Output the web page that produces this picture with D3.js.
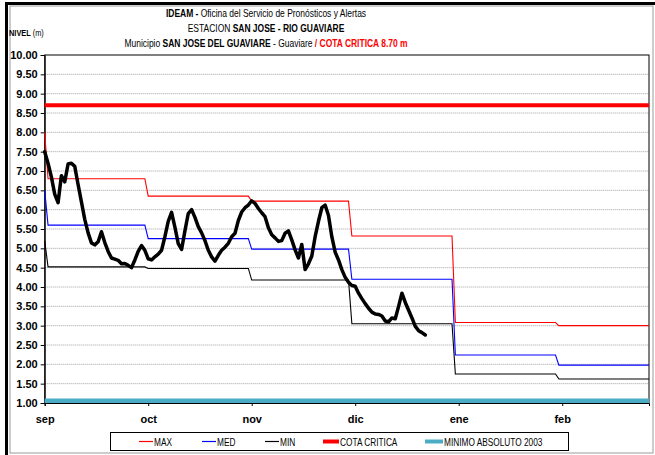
<!DOCTYPE html>
<html>
<head>
<meta charset="utf-8">
<script src="https://cdn.jsdelivr.net/npm/d3@7"></script>
<style>
  html, body { margin: 0; padding: 0; background: #fff; }
  svg { display: block; }
  .narrow { font-family: "Liberation Sans Narrow", "Arial Narrow", "Liberation Sans", Arial, sans-serif; }
  .axis-lbl { font-family: "Liberation Sans", Arial, sans-serif; font-weight: bold; font-size: 11px; fill: #000; }
</style>
</head>
<body>
<svg id="chart" width="655" height="455"></svg>
<script>
// Month labels along the bottom axis; a tick every 31 daily slots
const monthLabels = ["sep", "oct", "nov", "dic", "ene", "feb"];
const monthDays = [30, 31, 30, 31, 31, 28];
const yTicks = [1.0, 1.5, 2.0, 2.5, 3.0, 3.5, 4.0, 4.5, 5.0, 5.5, 6.0, 6.5, 7.0, 7.5, 8.0, 8.5, 9.0, 9.5, 10.0];

// Historical monthly levels (m): first value is the carry-in from the previous month
const maxStart = 8.0;
const maxMonthly = [6.80, 6.35, 6.22, 5.32, 3.08, 3.00];
const medStart = 6.5;
const medMonthly = [5.60, 5.25, 4.98, 4.20, 2.24, 1.98];
const minStart = 5.2;
const minMonthly = [4.52, 4.48, 4.18, 3.05, 1.75, 1.62];

// Reference levels (m)
const cotaCritica = 8.70;
const minimoAbsoluto2003 = 1.06;

// Observed daily water level (m) for the current season
const observed = [
  7.50, 7.20, 6.85, 6.40, 6.18, 6.88, 6.72, 7.18, 7.20, 7.12,
  6.65, 6.20, 5.75, 5.40, 5.14, 5.09, 5.17, 5.43, 5.15, 4.92,
  4.75, 4.72, 4.69, 4.60, 4.61, 4.56, 4.50, 4.70, 4.92, 5.07,
  4.95, 4.73, 4.70, 4.78, 4.85, 4.95, 5.30, 5.70, 5.93, 5.55,
  5.12, 4.97, 5.45, 5.90, 6.00, 5.80, 5.56, 5.40, 5.20, 4.95,
  4.78, 4.67, 4.82, 4.95, 5.03, 5.13, 5.30, 5.39, 5.72, 5.94,
  6.05, 6.12, 6.23, 6.16, 6.03, 5.92, 5.82, 5.53, 5.35, 5.27,
  5.18, 5.20, 5.39, 5.45, 5.22, 4.96, 4.75, 5.10, 4.45, 4.60,
  4.80, 5.30, 5.70, 6.05, 6.12, 5.85, 5.30, 4.90, 4.70, 4.45,
  4.25, 4.12, 4.04, 4.02, 3.84, 3.70, 3.57, 3.45, 3.35, 3.30,
  3.29, 3.25, 3.12, 3.10, 3.20, 3.18, 3.50, 3.84, 3.60, 3.40,
  3.20, 2.98, 2.87, 2.82, 2.76
];

const legendItems = [
  { key: "MAX", color: "#ff0000", width: 1.2 },
  { key: "MED", color: "#0000ff", width: 1.2 },
  { key: "MIN", color: "#000000", width: 1.2 },
  { key: "COTA CRITICA", color: "#ff0000", width: 4 },
  { key: "MINIMO ABSOLUTO 2003", color: "#4bacc6", width: 4 }
];

// Expand a monthly step series into one value per daily slot
function expandMonthly(start, monthly) {
  const out = [{ i: 0, v: start }];
  let i = 1;
  monthly.forEach((v, m) => {
    for (let k = 0; k < monthDays[m]; k++) out.push({ i: i++, v });
  });
  return out;
}
const totalSlots = d3.sum(monthDays); // last slot index

const svg = d3.select("#chart");
const plot = { left: 44.7, right: 649, top: 55, bottom: 403 };

const x = d3.scaleLinear().domain([0, totalSlots]).range([plot.left, plot.right]);
const y = d3.scaleLinear().domain([1, 10]).range([plot.bottom, plot.top]);

// Outer chart frame
svg.append("rect").attr("x", 10).attr("y", 6).attr("width", 643).attr("height", 447)
  .attr("fill", "none").attr("stroke", "#9a9a9a").attr("stroke-width", 1);
svg.append("line").attr("x1", 6.5).attr("x2", 6.5).attr("y1", 2).attr("y2", 455)
  .attr("stroke", "#000").attr("stroke-width", 3);
svg.append("line").attr("x1", 5).attr("x2", 655).attr("y1", 3.5).attr("y2", 3.5)
  .attr("stroke", "#000").attr("stroke-width", 3);

// Condensed text helper: horizontal squeeze around an anchor point
function squeezed(parent, cx, cy, sx, anchor) {
  return parent.append("g").attr("transform", `translate(${cx},${cy}) scale(${sx},1)`)
    .append("text").attr("x", 0).attr("y", 0).attr("text-anchor", anchor);
}

// Titles
const titleG = svg.append("g").attr("class", "narrow").attr("font-size", 11);
const t1 = squeezed(titleG, 266, 17, 0.77, "middle");
t1.append("tspan").attr("font-weight", "bold").text("IDEAM - ");
t1.append("tspan").text("Oficina del Servicio de Pronósticos y Alertas");
const t2 = squeezed(titleG, 266, 32, 0.77, "middle");
t2.append("tspan").text("ESTACION ");
t2.append("tspan").attr("font-weight", "bold").text("SAN JOSE - RIO GUAVIARE");
const t3 = squeezed(titleG, 266, 47, 0.77, "middle");
t3.append("tspan").text("Municipio ");
t3.append("tspan").attr("font-weight", "bold").text("SAN JOSE DEL GUAVIARE");
t3.append("tspan").text(" - Guaviare ");
t3.append("tspan").attr("font-weight", "bold").attr("fill", "#ff0000").text(" / COTA CRITICA 8.70 m");

const yTitle = squeezed(svg.append("g").attr("class", "narrow").attr("font-size", 9.5), 9, 36, 0.78, "start");
yTitle.append("tspan").attr("font-weight", "bold").text("NIVEL ");
yTitle.append("tspan").text("(m)");

// Gridlines
svg.append("g").selectAll("line").data(yTicks.filter(t => t > 1 && t < 10)).join("line")
  .attr("x1", plot.left).attr("x2", plot.right)
  .attr("y1", d => y(d)).attr("y2", d => y(d))
  .attr("stroke", "#a0a0a0").attr("stroke-width", 1).attr("stroke-dasharray", "1,1");

// Plot frame
svg.append("rect").attr("x", plot.left).attr("y", plot.top)
  .attr("width", plot.right - plot.left).attr("height", plot.bottom - plot.top)
  .attr("fill", "none").attr("stroke", "#000").attr("stroke-width", 1);

// Y axis
const yAxis = svg.append("g").attr("transform", `translate(${plot.left},0)`)
  .call(d3.axisLeft(y).tickValues(yTicks).tickFormat(d3.format(".2f")).tickSize(4).tickPadding(3));
yAxis.select(".domain").attr("stroke", "#000");
yAxis.selectAll("text").attr("class", "axis-lbl").attr("font-size", null).attr("font-family", null);

// X axis
const xAxis = svg.append("g").attr("transform", `translate(0,${plot.bottom})`)
  .call(d3.axisBottom(x).tickValues(monthLabels.map((_, i) => i * 31))
    .tickFormat((d, i) => monthLabels[i]).tickSize(3).tickPadding(9));
xAxis.select(".domain").attr("stroke", "#000");
xAxis.selectAll("text").attr("class", "axis-lbl").attr("font-size", null).attr("font-family", null);

const line = d3.line().x(d => x(d.i)).y(d => y(d.v));

// Reference horizontal levels
svg.append("path").datum([{ i: 0, v: minimoAbsoluto2003 }, { i: totalSlots, v: minimoAbsoluto2003 }])
  .attr("d", line).attr("stroke", "#4bacc6").attr("stroke-width", 4.5).attr("fill", "none");
svg.append("path").datum([{ i: 0, v: cotaCritica }, { i: totalSlots, v: cotaCritica }])
  .attr("d", line).attr("stroke", "#ff0000").attr("stroke-width", 4).attr("fill", "none");

// Historical MAX / MED / MIN step lines
[[maxStart, maxMonthly, "#ff0000"], [medStart, medMonthly, "#0000ff"], [minStart, minMonthly, "#000000"]]
  .forEach(([s, m, c]) => {
    svg.append("path").datum(expandMonthly(s, m)).attr("d", line)
      .attr("stroke", c).attr("stroke-width", 1.1).attr("fill", "none");
  });

// Observed level
svg.append("path").datum(observed.map((v, i) => ({ i, v })))
  .attr("d", line)
  .attr("stroke", "#000").attr("stroke-width", 3.5).attr("fill", "none")
  .attr("stroke-linejoin", "round").attr("stroke-linecap", "round");

// Legend
const lg = svg.append("g").attr("class", "narrow").attr("font-size", 10.5);
lg.append("rect").attr("x", 110.5).attr("y", 432.5).attr("width", 458).attr("height", 18)
  .attr("fill", "#fff").attr("stroke", "#000").attr("stroke-width", 1);
const legendX = [139, 202, 265, 323, 425];
const legendLen = [14, 14, 14, 16, 18];
legendItems.forEach((it, k) => {
  lg.append("line").attr("x1", legendX[k]).attr("x2", legendX[k] + legendLen[k])
    .attr("y1", 441.5).attr("y2", 441.5)
    .style("stroke", it.color).style("stroke-width", it.width);
  const tx = squeezed(lg, legendX[k] + legendLen[k] + 1, 445.5, 0.79, "start");
  tx.text(it.key);
});
</script>
</body>
</html>
